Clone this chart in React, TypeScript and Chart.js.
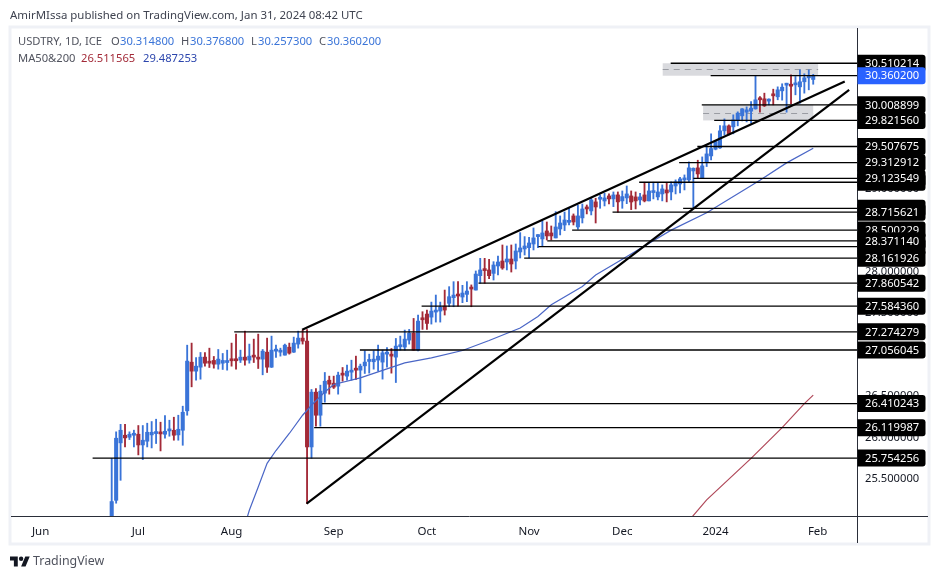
import { useEffect, useRef } from "react"
import Chart from "chart.js/auto"

const BLUE = "#3a74d8"
const RED = "#a32a38"
const FONT = "'Noto Sans', sans-serif"

const opens = [
  25.0, 25.245, 25.937, 26.029, 26.005, 26.029, 26.041, 25.912, 25.957, 26.033,
  26.049, 26.053, 26.041, 26.081, 26.089, 26.033, 26.089, 26.323, 26.909, 26.801,
  26.849, 26.97, 26.918, 26.93, 26.885, 26.897, 26.905, 26.934, 26.934, 26.934,
  26.97, 26.934, 26.982, 26.97, 26.946, 27.03, 26.849, 27.042, 27.03, 26.994,
  27.09, 27.03, 27.127, 27.199, 27.163, 25.888, 26.548, 26.27, 26.536, 26.692,
  26.656, 26.62, 26.765, 26.741, 26.789, 26.825, 26.813, 26.865, 26.918, 26.914,
  26.934, 26.91, 27.006, 26.994, 26.97, 27.095, 27.091, 27.175, 27.259, 27.054,
  27.428, 27.489, 27.452, 27.513, 27.525, 27.585, 27.618, 27.686, 27.718, 27.694,
  27.726, 27.798, 27.778, 27.951, 28.02, 28.02, 27.979, 28.068, 28.128, 28.116,
  28.152, 28.128, 28.237, 28.273, 28.289, 28.333, 28.422, 28.394, 28.49, 28.466,
  28.406, 28.514, 28.562, 28.594, 28.671, 28.538, 28.647, 28.763, 28.731, 28.84,
  28.872, 28.851, 28.912, 28.876, 28.924, 28.852, 28.888, 28.912, 28.9, 28.864,
  28.924, 28.852, 28.952, 28.9, 28.936, 28.984, 28.96, 29.032, 29.056, 29.105,
  29.105, 29.213, 29.25, 29.121, 29.322, 29.394, 29.475, 29.491, 29.696, 29.756,
  29.744, 29.824, 29.877, 29.921, 29.933, 29.961, 30.094, 30.082, 30.054, 30.13,
  30.106, 30.178, 30.246, 30.25, 30.25, 30.226, 30.287, 30.335, 30.3148,
]
const highs = [
  25.75, 26.07, 26.16, 26.16, 26.07, 26.09, 26.146, 26.146, 26.174, 26.194,
  26.222, 26.186, 26.266, 26.21, 26.246, 26.27, 26.379, 27.114, 27.139, 26.966,
  27.026, 27.026, 27.078, 26.978, 27.062, 27.014, 27.054, 27.139, 27.247, 27.054,
  27.283, 27.127, 27.187, 27.247, 27.062, 27.199, 27.223, 27.114, 27.078, 27.127,
  27.139, 27.211, 27.283, 27.295, 27.303, 26.58, 26.592, 26.632, 26.785, 26.741,
  26.741, 26.789, 26.845, 26.873, 26.933, 26.982, 26.886, 27.046, 27.006, 27.046,
  27.115, 27.054, 27.086, 27.074, 27.195, 27.223, 27.296, 27.304, 27.436, 27.476,
  27.517, 27.537, 27.633, 27.718, 27.633, 27.778, 27.819, 27.879, 27.879, 27.835,
  27.879, 27.84, 28.008, 28.16, 28.16, 28.148, 28.12, 28.188, 28.321, 28.309,
  28.321, 28.333, 28.47, 28.422, 28.414, 28.526, 28.446, 28.606, 28.598, 28.55,
  28.723, 28.671, 28.719, 28.767, 28.695, 28.799, 28.815, 28.803, 28.888, 28.884,
  28.924, 28.944, 28.936, 28.96, 28.96, 28.972, 29.032, 28.972, 28.96, 28.944,
  29.077, 29.077, 29.077, 29.065, 29.045, 29.073, 29.081, 29.105, 29.137, 29.165,
  29.322, 29.25, 29.342, 29.382, 29.515, 29.66, 29.579, 29.76, 29.84, 29.768,
  29.889, 29.925, 29.965, 29.985, 30.049, 30.359, 30.11, 30.15, 30.082, 30.198,
  30.226, 30.263, 30.27, 30.371, 30.351, 30.431, 30.383, 30.431, 30.3768,
]
const lows = [
  24.9, 25.21, 25.486, 25.888, 25.977, 25.888, 25.792, 25.736, 25.888, 25.876,
  25.929, 25.84, 25.993, 26.017, 25.969, 25.969, 25.908, 26.27, 26.612, 26.692,
  26.704, 26.861, 26.845, 26.837, 26.825, 26.821, 26.813, 26.861, 26.825, 26.905,
  26.873, 26.897, 26.905, 26.833, 26.757, 26.785, 26.845, 26.966, 26.982, 26.994,
  27.006, 27.026, 27.078, 27.127, 25.205, 25.752, 26.138, 26.138, 26.427, 26.524,
  26.592, 26.524, 26.68, 26.692, 26.692, 26.7, 26.54, 26.773, 26.777, 26.825,
  26.801, 26.705, 26.849, 26.777, 26.664, 27.054, 27.054, 27.127, 27.054, 27.046,
  27.304, 27.304, 27.368, 27.392, 27.392, 27.477, 27.577, 27.577, 27.585, 27.626,
  27.638, 27.577, 27.778, 27.859, 27.859, 27.915, 27.899, 27.959, 28.028, 28.02,
  27.995, 28.032, 28.164, 28.2, 28.164, 28.261, 28.289, 28.309, 28.381, 28.381,
  28.406, 28.442, 28.494, 28.562, 28.562, 28.51, 28.586, 28.695, 28.683, 28.586,
  28.763, 28.791, 28.815, 28.783, 28.715, 28.763, 28.819, 28.747, 28.755, 28.803,
  28.84, 28.852, 28.876, 28.864, 28.852, 28.84, 28.864, 28.936, 28.948, 28.984,
  29.081, 28.767, 29.129, 29.121, 29.266, 29.346, 29.467, 29.483, 29.647, 29.647,
  29.66, 29.756, 29.816, 29.804, 29.788, 29.957, 29.921, 29.989, 30.009, 30.009,
  30.07, 30.066, 29.921, 30.021, 30.13, 30.029, 30.15, 30.19, 30.2573,
]
const closes = [
  25.23, 25.993, 26.089, 25.997, 26.041, 26.053, 25.912, 25.969, 26.065, 26.065,
  26.053, 26.045, 26.077, 26.101, 26.029, 26.101, 26.306, 26.922, 26.801, 26.861,
  26.97, 26.897, 26.897, 26.885, 26.946, 26.93, 26.909, 26.926, 26.926, 26.97,
  26.934, 26.982, 26.97, 26.946, 27.042, 26.849, 27.054, 27.054, 27.054, 27.114,
  27.018, 27.139, 27.199, 27.163, 25.888, 26.548, 26.27, 26.56, 26.68, 26.644,
  26.608, 26.753, 26.753, 26.801, 26.813, 26.813, 26.861, 26.91, 26.926, 26.946,
  26.982, 27.022, 27.014, 26.982, 27.103, 27.103, 27.187, 27.259, 27.054, 27.404,
  27.42, 27.376, 27.525, 27.537, 27.573, 27.537, 27.698, 27.718, 27.706, 27.742,
  27.766, 27.79, 27.971, 28.02, 28.012, 27.951, 28.08, 28.116, 28.044, 28.152,
  28.092, 28.249, 28.285, 28.309, 28.345, 28.406, 28.43, 28.466, 28.43, 28.43,
  28.538, 28.586, 28.622, 28.602, 28.598, 28.671, 28.755, 28.755, 28.864, 28.779,
  28.876, 28.888, 28.876, 28.924, 28.84, 28.904, 28.936, 28.839, 28.852, 28.9,
  28.852, 28.972, 28.96, 28.96, 28.996, 28.948, 29.045, 29.081, 29.117, 29.129,
  29.25, 29.245, 29.177, 29.274, 29.418, 29.483, 29.567, 29.696, 29.756, 29.66,
  29.828, 29.909, 29.961, 29.949, 29.969, 30.07, 30.07, 29.997, 30.062, 30.118,
  30.19, 30.222, 30.263, 30.234, 30.271, 30.287, 30.335, 30.343, 30.3602,
]

// moving averages, read at the bends of each curve
const maBlueIdx = [30, 31, 33, 35, 37, 40, 43, 45, 48, 50, 56, 61, 66, 72, 79, 85, 92, 96, 99, 106, 109, 115, 126, 134, 146, 152, 158]
const maBlueVals = [24.95, 25.125, 25.405, 25.69, 25.845, 26.05, 26.27, 26.39, 26.55, 26.64, 26.72, 26.81, 26.9, 26.96, 27.05, 27.17, 27.32, 27.46, 27.6, 27.82, 27.96, 28.15, 28.5, 28.71, 29.1, 29.31, 29.487253]
const maRedIdx = [130, 134, 144, 151, 156, 158]
const maRedVals = [25.0, 25.25, 25.75, 26.12, 26.41, 26.511565]

// trend lines: [start index, start price, end index, end price]
const upperTrend = [42.9, 27.3, 165.1, 30.29]
const lowerTrend = [43.9, 25.205, 166.1, 30.19]

// horizontal rays, running from a start bar to the price axis
const rayPrices = [30.510214, 30.3602, 30.008899, 29.82156, 29.507675, 29.312912, 29.123549, 29.077, 28.763, 28.715621, 28.500229, 28.37114, 28.3, 28.161926, 27.860542, 27.58436, 27.274279, 27.056045, 26.410243, 26.119987, 25.754256]
const rayStarts = [125.9, 134.9, 132.9, 135.7, 131.9, 127.8, 131, 118.8, 128.7, 112.8, 103.7, 98.1, 96.1, 92.9, 82.6, 69.8, 27.6, 55.9, 47.3, 45.6, -4.3]

// shaded zones: [left index, right index, top price, bottom price]
const zones = [
  [124.1, 159.1, 30.510214, 30.3602],
  [133.2, 158, 30.008899, 29.82156],
]

const priceTicks = [25.5, 26, 26.5, 27, 27.5, 28, 28.5, 29, 29.5, 30, 30.5]
const hiddenBoxes = [29.077, 28.763, 28.3]
const boxedPrices = [30.510214, 30.008899, 29.82156, 29.507675, 29.312912, 29.123549, 28.715621, 28.500229, 28.37114, 28.161926, 27.860542, 27.58436, 27.274279, 27.056045, 26.410243, 26.119987, 25.754256]
const lastPrice = 30.3602

const monthTicks = [-16, 6, 27, 50, 71, 94, 115, 136, 159]
const monthLabels = ["Jun", "Jul", "Aug", "Sep", "Oct", "Nov", "Dec", "2024", "Feb"]

const X_MIN = -22.68
const X_MAX = 167.86
const Y_MIN = 25.056
const Y_MAX = 30.935

function box(ctx: CanvasRenderingContext2D, y: number, color: string, text?: string) {
  ctx.fillStyle = color
  ctx.beginPath()
  ctx.roundRect(857.5, y - 8.5, 68, 17, [0, 3, 3, 0])
  ctx.fill()
  if (text) {
    ctx.fillStyle = "#fff"
    ctx.font = `11.2px ${FONT}`
    ctx.textAlign = "left"
    ctx.textBaseline = "middle"
    ctx.fillText(text, 865, y + 0.5)
  }
}

const zonePlugin = {
  id: "zones",
  beforeDatasetsDraw(chart: any) {
    const { ctx, scales } = chart
    ctx.save()
    zones.forEach(([l, r, top, bottom]) => {
      const x0 = scales.x.getPixelForValue(l)
      const x1 = scales.x.getPixelForValue(r)
      const y0 = scales.y.getPixelForValue(top)
      const y1 = scales.y.getPixelForValue(bottom)
      ctx.fillStyle = "#d9dade"
      ctx.fillRect(x0, y0, x1 - x0, y1 - y0)
      ctx.strokeStyle = "#9a9ca3"
      ctx.lineWidth = 1
      ctx.setLineDash([6, 5])
      ctx.beginPath()
      ctx.moveTo(x0, Math.round((y0 + y1) / 2) + 0.5)
      ctx.lineTo(x1, Math.round((y0 + y1) / 2) + 0.5)
      ctx.stroke()
      ctx.setLineDash([])
    })
    ctx.restore()
  },
}

const framePlugin = {
  id: "frame",
  beforeDraw(chart: any) {
    const { ctx } = chart
    ctx.save()
    ctx.strokeStyle = "#eff1f6"
    ctx.lineWidth = 3
    ctx.strokeRect(10, 27, 919, 517)
    ctx.restore()
  },
  afterDraw(chart: any) {
    const { ctx, chartArea, scales } = chart
    ctx.save()
    ctx.strokeStyle = "#2a2e39"
    ctx.lineWidth = 1
    ctx.beginPath()
    ctx.moveTo(chartArea.left, chartArea.bottom + 0.5)
    ctx.lineTo(928, chartArea.bottom + 0.5)
    ctx.moveTo(chartArea.right + 0.5, chartArea.top)
    ctx.lineTo(chartArea.right + 0.5, 543)
    ctx.stroke()
    hiddenBoxes.forEach((p) => box(ctx, scales.y.getPixelForValue(p), "#000"))
    boxedPrices.forEach((p) => box(ctx, scales.y.getPixelForValue(p), "#000", p.toFixed(6)))
    box(ctx, scales.y.getPixelForValue(lastPrice), "#2962ff", lastPrice.toFixed(6))
    ctx.restore()
  },
}

function PriceChart() {
  const canvasRef = useRef<HTMLCanvasElement>(null)

  useEffect(() => {
    if (!canvasRef.current) return
    const colors = closes.map((c, i) => (c >= opens[i] ? BLUE : RED))
    const line = (data: any[], color: string, width: number, order: number) => ({
      type: "line" as const,
      data,
      borderColor: color,
      borderWidth: width,
      pointRadius: 0,
      tension: 0,
      order,
    })
    const chart = new Chart(canvasRef.current, {
      data: {
        datasets: [
          {
            type: "bar" as const,
            data: highs.map((h, i) => ({ x: i, y: [lows[i], h] })),
            backgroundColor: colors,
            barThickness: 1.2,
            grouped: false,
            order: 4,
          },
          {
            type: "bar" as const,
            data: closes.map((c, i) => ({ x: i, y: [opens[i], c] })),
            backgroundColor: colors,
            barThickness: 3.4,
            minBarLength: 2,
            grouped: false,
            order: 3,
          },
          line(maBlueIdx.map((x, i) => ({ x, y: maBlueVals[i] })), "#4a66c6", 1.2, 2),
          line(maRedIdx.map((x, i) => ({ x, y: maRedVals[i] })), "#b0495a", 1.2, 2),
          ...rayPrices.map((p, i) =>
            line([{ x: rayStarts[i], y: p }, { x: X_MAX, y: p }], "#000", 1.3, 1),
          ),
          line([{ x: upperTrend[0], y: upperTrend[1] }, { x: upperTrend[2], y: upperTrend[3] }], "#000", 2.2, 0),
          line([{ x: lowerTrend[0], y: lowerTrend[1] }, { x: lowerTrend[2], y: lowerTrend[3] }], "#000", 2.2, 0),
        ],
      },
      options: {
        responsive: false,
        animation: false,
        devicePixelRatio: 1,
        layout: { padding: { left: 11, right: 9, top: 28, bottom: 34 } },
        plugins: {
          legend: { display: false },
          tooltip: { enabled: false },
        },
        scales: {
          x: {
            type: "linear",
            offset: false,
            min: X_MIN,
            max: X_MAX,
            grid: { display: false },
            border: { display: false },
            afterFit: (s: any) => {
              s.height = 29
            },
            afterBuildTicks: (s: any) => {
              s.ticks = monthTicks.map((value) => ({ value }))
            },
            ticks: {
              autoSkip: false,
              maxRotation: 0,
              padding: 1,
              color: "#131722",
              font: { family: "'Noto Sans', sans-serif", size: 11.5 },
              callback: (v: any) => monthLabels[monthTicks.indexOf(v)],
            },
          },
          y: {
            position: "right",
            min: Y_MIN,
            max: Y_MAX,
            grid: { display: false, drawTicks: false },
            border: { display: false },
            afterFit: (s: any) => {
              s.width = 73
            },
            afterBuildTicks: (s: any) => {
              s.ticks = priceTicks.map((value) => ({ value }))
            },
            ticks: {
              autoSkip: false,
              padding: 8,
              color: "#131722",
              font: { family: "'Noto Sans', sans-serif", size: 11.2 },
              callback: (v: any) => Number(v).toFixed(6),
            },
          },
        },
      },
      plugins: [zonePlugin, framePlugin],
    })
    return () => chart.destroy()
  }, [])

  return <canvas ref={canvasRef} width={939} height={579} style={{ display: "block" }} />
}

const textStyle = {
  position: "absolute" as const,
  fontFamily: FONT,
  fontSize: 11.2,
  lineHeight: "16px",
  whiteSpace: "pre" as const,
  color: "#50535e",
}

function Num({ left, color, children }: { left: number; color: string; children: string }) {
  return <span style={{ position: "absolute", left, color }}>{children}</span>
}

export default function App() {
  return (
    <div style={{ position: "absolute", left: 0, top: 0, width: 939, height: 579, overflow: "hidden", background: "#fff" }}>
      <PriceChart />
      <div style={{ ...textStyle, left: 10, top: 7, fontSize: 11.45, color: "#3f4350" }}>
        AmirMIssa published on TradingView.com, Jan 31, 2024 08:42 UTC
      </div>
      <div style={{ ...textStyle, left: 18, top: 33, width: 400, height: 16 }}>
        USDTRY, 1D, ICE
        <Num left={93} color="#50535e">O</Num>
        <Num left={102} color={BLUE}>30.314800</Num>
        <Num left={163} color="#50535e">H</Num>
        <Num left={172} color={BLUE}>30.376800</Num>
        <Num left={233} color="#50535e">L</Num>
        <Num left={240} color={BLUE}>30.257300</Num>
        <Num left={301} color="#50535e">C</Num>
        <Num left={309} color={BLUE}>30.360200</Num>
      </div>
      <div style={{ ...textStyle, left: 18, top: 50, width: 400, height: 16 }}>
        MA50&amp;200
        <Num left={63} color={RED}>26.511565</Num>
        <Num left={125} color="#2c46ad">29.487253</Num>
      </div>
      <svg style={{ position: "absolute", left: 10, top: 555 }} width="20" height="13" viewBox="0 4 36 18">
        <path d="M14 22H7V11H0V4h14v18zM28 22h-8l7.5-18h8L28 22z" fill="#131722" />
        <circle cx="20" cy="8" r="4" fill="#131722" />
      </svg>
      <div style={{ ...textStyle, left: 33, top: 553, fontSize: 12.4, color: "#50535e" }}>TradingView</div>
    </div>
  )
}
